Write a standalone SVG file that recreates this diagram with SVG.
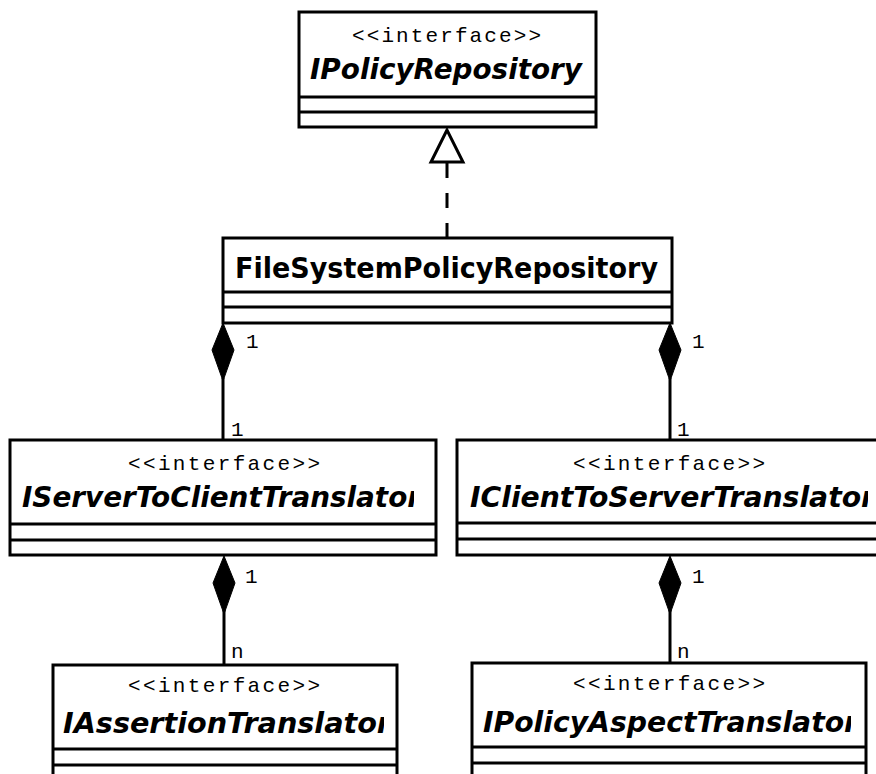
<svg xmlns="http://www.w3.org/2000/svg" width="876" height="774" viewBox="0 0 876 774">
  <style>
    .box { fill: #ffffff; stroke: #000000; stroke-width: 3; }
    .sep { stroke: #000000; stroke-width: 3; }
    .stereo { font-family: "Liberation Mono", "DejaVu Sans Mono", monospace; font-size: 21px; fill: #000000; }
    .iname { font-family: "DejaVu Sans", Verdana, sans-serif; font-size: 28px; font-weight: bold; font-style: italic; fill: #000000; }
    .cname { font-family: "DejaVu Sans", Verdana, sans-serif; font-size: 28px; font-weight: bold; fill: #000000; }
    .mult { font-family: "Liberation Mono", "DejaVu Sans Mono", monospace; font-size: 21px; fill: #000000; }
    .line { stroke: #000000; stroke-width: 3; fill: none; }
    .dash { stroke-dasharray: 15 15; }
    .diamond { fill: #000000; stroke: #000000; stroke-width: 1; }
    .tri { fill: #ffffff; stroke: #000000; stroke-width: 3; stroke-linejoin: miter; }
  </style>
  <defs>
    <clipPath id="clip-s2c"><rect x="0" y="430" width="414" height="100"/></clipPath>
    <clipPath id="clip-c2s"><rect x="450" y="430" width="418" height="100"/></clipPath>
    <clipPath id="clip-assert"><rect x="40" y="650" width="344" height="100"/></clipPath>
    <clipPath id="clip-aspect"><rect x="460" y="650" width="391" height="100"/></clipPath>
  </defs>

  <rect width="876" height="774" fill="#ffffff"/>

  <!-- connectors -->
  <g id="connectors">
    <!-- realization: FileSystemPolicyRepository -> IPolicyRepository -->
    <line class="line dash" x1="447" y1="238" x2="447" y2="162"/>
    <polygon class="tri" points="447,130 431,162 463,162"/>

    <!-- composition: FileSystemPolicyRepository <>- IServerToClientTranslator -->
    <line class="line" x1="223" y1="378" x2="223" y2="440"/>
    <polygon class="diamond" points="223,323 234,350 223,381 212,350"/>
    <text class="mult" x="246" y="348">1</text>
    <text class="mult" x="231" y="436">1</text>

    <!-- composition: FileSystemPolicyRepository <>- IClientToServerTranslator -->
    <line class="line" x1="670" y1="378" x2="670" y2="440"/>
    <polygon class="diamond" points="670,323 681,350 670,381 659,350"/>
    <text class="mult" x="692" y="348">1</text>
    <text class="mult" x="677" y="436">1</text>

    <!-- composition: IServerToClientTranslator <>- IAssertionTranslator -->
    <line class="line" x1="224" y1="610" x2="224" y2="665"/>
    <polygon class="diamond" points="224,556 235,583 224,614 213,583"/>
    <text class="mult" x="245" y="583">1</text>
    <text class="mult" x="231" y="658">n</text>

    <!-- composition: IClientToServerTranslator <>- IPolicyAspectTranslator -->
    <line class="line" x1="670" y1="610" x2="670" y2="663"/>
    <polygon class="diamond" points="670,556 681,583 670,614 659,583"/>
    <text class="mult" x="692" y="583">1</text>
    <text class="mult" x="677" y="658">n</text>
  </g>

  <!-- IPolicyRepository -->
  <g id="IPolicyRepository">
    <rect class="box" x="299" y="12" width="297" height="115"/>
    <line class="sep" x1="299" y1="97" x2="596" y2="97"/>
    <line class="sep" x1="299" y1="112" x2="596" y2="112"/>
    <text class="stereo" x="352" y="42" textLength="189" lengthAdjust="spacing">&lt;&lt;interface&gt;&gt;</text>
    <text class="iname" x="310" y="79" textLength="272" lengthAdjust="spacingAndGlyphs">IPolicyRepository</text>
  </g>

  <!-- FileSystemPolicyRepository -->
  <g id="FileSystemPolicyRepository">
    <rect class="box" x="223" y="238" width="449" height="85"/>
    <line class="sep" x1="223" y1="292" x2="672" y2="292"/>
    <line class="sep" x1="223" y1="307" x2="672" y2="307"/>
    <text class="cname" x="235" y="278" textLength="423" lengthAdjust="spacingAndGlyphs">FileSystemPolicyRepository</text>
  </g>

  <!-- IServerToClientTranslator -->
  <g id="IServerToClientTranslator">
    <rect class="box" x="10" y="440" width="426" height="115"/>
    <line class="sep" x1="10" y1="524" x2="436" y2="524"/>
    <line class="sep" x1="10" y1="540" x2="436" y2="540"/>
    <text class="stereo" x="128" y="470" textLength="192" lengthAdjust="spacing">&lt;&lt;interface&gt;&gt;</text>
    <text class="iname" x="22" y="507" textLength="399" lengthAdjust="spacingAndGlyphs" clip-path="url(#clip-s2c)">IServerToClientTranslator</text>
  </g>

  <!-- IClientToServerTranslator -->
  <g id="IClientToServerTranslator">
    <rect class="box" x="457" y="440" width="426" height="115"/>
    <line class="sep" x1="457" y1="523" x2="883" y2="523"/>
    <line class="sep" x1="457" y1="539" x2="883" y2="539"/>
    <text class="stereo" x="573" y="470" textLength="192" lengthAdjust="spacing">&lt;&lt;interface&gt;&gt;</text>
    <text class="iname" x="470" y="507" textLength="405" lengthAdjust="spacingAndGlyphs" clip-path="url(#clip-c2s)">IClientToServerTranslator</text>
  </g>

  <!-- IAssertionTranslator -->
  <g id="IAssertionTranslator">
    <rect class="box" x="53" y="665" width="344" height="130"/>
    <line class="sep" x1="53" y1="749" x2="397" y2="749"/>
    <line class="sep" x1="53" y1="765" x2="397" y2="765"/>
    <text class="stereo" x="128" y="692" textLength="192" lengthAdjust="spacing">&lt;&lt;interface&gt;&gt;</text>
    <text class="iname" x="63" y="733" textLength="328" lengthAdjust="spacingAndGlyphs" clip-path="url(#clip-assert)">IAssertionTranslator</text>
  </g>

  <!-- IPolicyAspectTranslator -->
  <g id="IPolicyAspectTranslator">
    <rect class="box" x="472" y="663" width="394" height="130"/>
    <line class="sep" x1="472" y1="747" x2="866" y2="747"/>
    <line class="sep" x1="472" y1="763" x2="866" y2="763"/>
    <text class="stereo" x="573" y="690" textLength="192" lengthAdjust="spacing">&lt;&lt;interface&gt;&gt;</text>
    <text class="iname" x="483" y="732" textLength="375" lengthAdjust="spacingAndGlyphs" clip-path="url(#clip-aspect)">IPolicyAspectTranslator</text>
  </g>
</svg>
